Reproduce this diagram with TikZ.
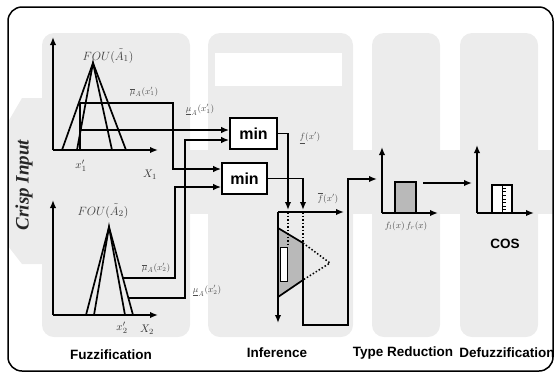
\documentclass[tikz,border=0pt]{standalone}
\usepackage{fontspec}
\setmainfont{Liberation Serif}
\setsansfont{Liberation Sans}
\usepackage{tikz}
\usetikzlibrary{arrows.meta,positioning,calc}
\tikzset{
  panel/.style={fill=gray!15, rounded corners=12pt, inner sep=0pt},
  hole/.style={fill=white, inner sep=0pt},
  frame/.style={draw, line width=1.5pt, rounded corners=14pt, inner sep=0pt},
  minbox/.style={draw, line width=1.7pt, fill=white, inner sep=0pt, minimum height=31pt, font=\sffamily\bfseries\fontsize{16}{16}\selectfont},
  stage/.style={inner sep=0pt, font=\sffamily\bfseries\fontsize{13.5}{13.5}\selectfont},
  crisp/.style={inner sep=0pt, rotate=90, text=black!85, font=\bfseries\itshape\fontsize{19}{19}\selectfont},
  foulbl/.style={inner sep=0pt, text=black!75, font=\fontsize{13}{13}\selectfont},
  lbl/.style={inner sep=0pt, text=black!70, font=\fontsize{9}{9}\selectfont},
  axlbl/.style={inner sep=0pt, text=black!80, font=\fontsize{11}{11}\selectfont},
  arrow/.style={-{Latex[length=8pt,width=6.5pt]}, line width=1.7pt},
  wire/.style={line width=1.7pt},
  dotline/.style={line width=1.5pt, dotted}
}

\begin{document}
\begin{tikzpicture}[x=1pt,y=-1pt]
  \useasboundingbox (0,0) rectangle (559,376);

  % background arrow and stage panels
  \fill[gray!15] (42,150) rectangle (553,214);
  \fill[gray!15] (8,122) -- (22,98) -- (45,98) -- (45,264) -- (22,264) -- (8,246) -- cycle;
  \node[panel, minimum width=148pt, minimum height=304pt] (fuzzpanel) at (116,185) {};
  \node[panel, minimum width=145pt, minimum height=304pt] (infpanel) at (280.5,185) {};
  \node[panel, minimum width=68pt, minimum height=304pt] (trpanel) at (406,185) {};
  \node[panel, minimum width=78pt, minimum height=304pt] (defpanel) at (499,185) {};
  \node[hole, minimum width=127pt, minimum height=33pt] (rulebase) at (278.5,69.5) {};
  \node[frame, minimum width=545pt, minimum height=364pt] (border) at (280.5,189) {};

  \node[crisp] (crispin) at (24,185) {Crisp Input};

  % fuzzification, input 1
  \coordinate (o1) at (53,150);
  \coordinate (o1y) at (53,37);
  \coordinate (o1x) at (158,150);
  \draw[arrow] (o1) -- (o1y);
  \draw[arrow] (o1) -- (o1x);
  \draw[wire] (62,150) -- (93,63) -- (126,150);
  \draw[wire] (77,150) -- (93,63) -- (112,150);
  \coordinate (mu1up) at (80,103);
  \coordinate (mu1lo) at (80,130);
  \draw[wire] (80,150) -- (mu1up);
  \node[foulbl] (fou1) at (108,56) {$FOU(\tilde{A}_1)$};
  \node[axlbl] (xin1) at (81,166) {$x'_1$};
  \node[axlbl] (xax1) at (150,175) {$X_1$};
  \node[lbl] (mu1uplbl) at (144,92) {$\overline{\mu}_{\tilde{A}}(x'_1)$};
  \node[lbl] (mu1lolbl) at (200,110) {$\underline{\mu}_{\tilde{A}}(x'_1)$};

  % fuzzification, input 2
  \coordinate (o2) at (53,315);
  \coordinate (o2y) at (53,200);
  \coordinate (o2x) at (158,315);
  \draw[arrow] (o2) -- (o2y);
  \draw[arrow] (o2) -- (o2x);
  \draw[wire] (86,315) -- (109,227) -- (133,315);
  \draw[wire] (94,315) -- (109,227) -- (125,315);
  \coordinate (mu2up) at (123,278);
  \coordinate (mu2lo) at (128,298);
  \node[foulbl] (fou2) at (103,211) {$FOU(\tilde{A}_2)$};
  \node[axlbl] (xin2) at (122,328) {$x'_2$};
  \node[axlbl] (xax2) at (147,330) {$X_2$};
  \node[lbl] (mu2uplbl) at (156,268) {$\overline{\mu}_{\tilde{A}}(x'_2)$};
  \node[lbl] (mu2lolbl) at (207,291) {$\underline{\mu}_{\tilde{A}}(x'_2)$};

  % inference
  \node[minbox, minimum width=47pt] (min1) at (253.5,133.5) {min};
  \node[minbox, minimum width=45pt] (min2) at (244.5,178.5) {min};
  \draw[arrow] (mu1up) -- (173,103) |- ([yshift=9.5pt]min2.west);
  \draw[arrow] (mu1lo) -- ([yshift=3.5pt]min1.west);
  \draw[arrow] (mu2up) -- (175,278) |- ([yshift=-8.5pt]min2.west);
  \draw[arrow] (mu2lo) -- (185,298) |- ([yshift=-6.5pt]min1.west);

  \coordinate (flo) at (288,210);
  \coordinate (fup) at (303,210);
  \draw[arrow] (min1.east) -| (flo);
  \draw[arrow] (min2.east) -| (fup);
  \node[lbl] (flolbl) at (310,138) {$\underline{f}(x')$};
  \node[lbl] (fuplbl) at (328,198) {$\overline{f}(x')$};

  \coordinate (cons) at (278,212);
  \coordinate (consx) at (344,212);
  \coordinate (consy) at (278,323);
  \fill[gray!55] (278,228) -- (303,243) -- (303,280) -- (278,297) -- cycle;
  \draw[fill=white, line width=0.9pt] (280,247) rectangle (287,281);
  \draw[arrow] (cons) -- (consx);
  \draw[arrow] (cons) -- (consy);
  \draw[wire] (278,228) -- (303,243);
  \draw[wire] (303,280) -- (278,297);
  \draw[dotline] (303,243) -- (330,263) -- (303,280);
  \draw[dotline] (288,212) -- (288,247);
  \draw[dotline] (303,212) -- (303,243);
  \coordinate (trin) at (377,179);
  \draw[arrow] (303,243) -- (303,325) -- (348,325) |- (trin);

  % type reduction
  \coordinate (o3) at (382,213);
  \coordinate (o3y) at (382,147);
  \coordinate (o3x) at (438,213);
  \draw[arrow] (o3) -- (o3y);
  \draw[arrow] (o3) -- (o3x);
  \draw[wire, fill=gray!55] (395,182) rectangle (416,213);
  \node[lbl] (yrange) at (406,226) {$f_l(x)\,f_r(x)$};
  \coordinate (trout) at (423,183);
  \coordinate (dfin) at (472,183);
  \draw[arrow] (trout) -- (dfin);

  % defuzzification
  \coordinate (o4) at (477,213);
  \coordinate (o4y) at (477,145);
  \coordinate (o4x) at (534,213);
  \draw[arrow] (o4) -- (o4y);
  \draw[arrow] (o4) -- (o4x);
  \draw[wire, fill=white] (492,185) rectangle (512,213);
  \draw[line width=0.6pt] (502,185) -- (502,213);
  \foreach \k in {0,...,6}
    \draw[line width=0.5pt] (502,188+3.6*\k) -- (506,188+3.6*\k);
  \node[stage] (cos) at (505,244) {COS};

  % stage names
  \node[stage] (fuzzname) at (111,355) {Fuzzification};
  \node[stage] (infname) at (277,353) {Inference};
  \node[stage] (trname) at (403,353) {Type Reduction};
  \node[stage] (defname) at (507,353) {Defuzzification};
\end{tikzpicture}
\end{document}
